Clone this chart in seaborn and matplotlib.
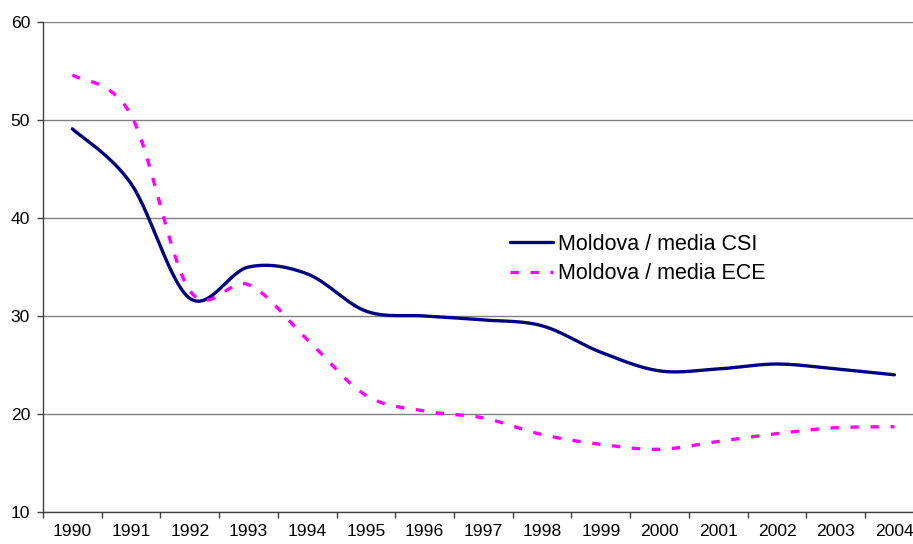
import numpy as np
import pandas as pd
import matplotlib
matplotlib.use("Agg")
import matplotlib.pyplot as plt
import seaborn as sns

years = [str(y) for y in range(1990, 2005)]
csi = [49.1, 43.5, 31.8, 35.0, 34.3, 30.5, 30.0, 29.6, 29.0, 26.3, 24.4, 24.6, 25.1, 24.6, 24.0]
ece = [54.6, 50.5, 32.6, 33.2, 27.6, 21.9, 20.3, 19.6, 17.9, 16.9, 16.4, 17.2, 18.0, 18.6, 18.7]
labels = ["Moldova / media CSI", "Moldova / media ECE"]


def smooth(vals, n=30):
    # Excel-like smoothed line (Catmull-Rom through the points)
    p = np.asarray(vals, dtype=float)
    x = np.arange(len(p), dtype=float)
    pp = np.concatenate([[p[0]], p, [p[-1]]])
    xx = np.concatenate([[x[0]], x, [x[-1]]])
    xs, ys = [], []
    t = np.linspace(0, 1, n, endpoint=False)
    for i in range(len(p) - 1):
        for arr, out in ((xx, xs), (pp, ys)):
            p0, p1, p2, p3 = arr[i], arr[i + 1], arr[i + 2], arr[i + 3]
            out.extend(0.5 * ((2 * p1) + (-p0 + p2) * t
                              + (2 * p0 - 5 * p1 + 4 * p2 - p3) * t ** 2
                              + (-p0 + 3 * p1 - 3 * p2 + p3) * t ** 3))
    xs.append(x[-1])
    ys.append(p[-1])
    return np.array(xs), np.array(ys)


sns.set_style("white")
plt.rcParams['font.family'] = ['Liberation Sans', 'DejaVu Sans']
plt.rcParams['text.color'] = 'black'
plt.rcParams['xtick.color'] = 'black'
plt.rcParams['ytick.color'] = 'black'

fig = plt.figure(figsize=(9.13, 5.44), dpi=100)
ax = fig.add_axes([43 / 913, 32 / 544, 880.8 / 913, 490 / 544])

xs, ys = smooth(csi)
sns.lineplot(x=xs, y=ys, ax=ax, sort=False, color="#000080", lw=2.4,
             label=labels[0])
xs, ys = smooth(ece)
sns.lineplot(x=xs, y=ys, ax=ax, sort=False, color="#FF00FF", lw=2.4,
             label=labels[1])
ax.lines[1].set_dashes((2.5, 3.5))

ax.set_xlim(-0.5, len(years) - 0.5)
ax.set_ylim(10, 60)
ax.set_yticks(range(10, 61, 10))
ax.set_xticks(range(len(years)))
ax.set_xticklabels(years)
ax.set_xticks(np.arange(-0.5, len(years), 1), minor=True)
ax.grid(axis="y", color="#808080", lw=1)
ax.set_axisbelow(True)

ax.tick_params(axis="x", which="major", length=0, pad=9, labelsize=12.6)
ax.tick_params(axis="x", which="minor", length=4.3, width=1, color="#404040",
               direction="out", bottom=True)
ax.tick_params(axis="y", length=4.3, width=1, color="#404040", direction="out",
               left=True, pad=5, labelsize=12.6)

for s in ["top", "right"]:
    ax.spines[s].set_visible(False)
for s in ["left", "bottom"]:
    ax.spines[s].set_color("#404040")
    ax.spines[s].set_linewidth(1)

leg = ax.legend(loc="upper left", bbox_to_anchor=(499 / 913, 1 - 223 / 544),
                bbox_transform=fig.transFigure, frameon=False, fontsize=15.5,
                handlelength=2.0, handletextpad=0.25, labelspacing=0.4,
                borderpad=0)

fig.savefig("out.png", dpi=100)
